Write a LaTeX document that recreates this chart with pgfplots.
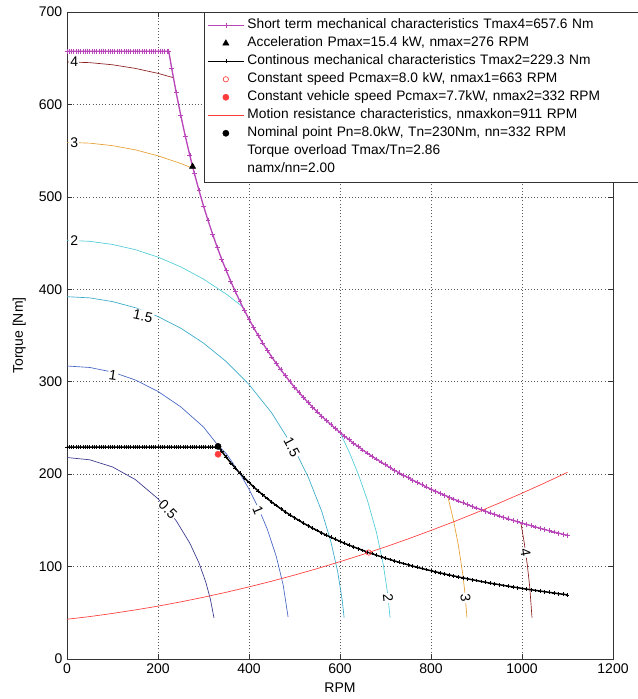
\documentclass[border=0pt]{standalone}
\usepackage{fontspec}
\setmainfont{Liberation Sans}
\usepackage{pgfplots}
\pgfplotsset{compat=1.18}
\definecolor{magc}{RGB}{185,70,185}
\definecolor{redc}{RGB}{255,60,60}
\definecolor{cA}{RGB}{55,55,140}
\definecolor{cB}{RGB}{70,100,195}
\definecolor{cC}{RGB}{55,170,200}
\definecolor{cD}{RGB}{80,205,215}
\definecolor{cE}{RGB}{230,160,50}
\definecolor{cF}{RGB}{140,30,30}
\tikzset{clabel/.style={font=\fontsize{10.5}{12}\selectfont, fill=white, inner sep=0.8pt}}
\begin{document}
\begin{tikzpicture}
\begin{axis}[
  scale only axis, width=409.5pt, height=485.25pt,
  xmin=0, xmax=1200, ymin=0, ymax=700,
  xtick={0,200,...,1200}, ytick={0,100,...,700},
  grid=major, grid style={black!65, dash pattern=on 0.8pt off 1.6pt, line width=0.45pt},
  tick align=inside, tick pos=both, major tick length=4pt,
  axis line style={black!80, line width=0.5pt},
  every tick/.style={black!80},
  /pgf/number format/assume math mode=true,
  /pgf/number format/1000 sep={},
  tick label style={font=\fontsize{10.5}{12}\selectfont},
  label style={font=\fontsize{10.5}{12}\selectfont},
  xlabel={RPM}, ylabel={Torque [Nm]},
  ylabel style={yshift=3pt},
  legend cell align=left,
  legend style={at={(rel axis cs:0.2509,1)}, anchor=north west, draw=black!80, font=\fontsize{10.3}{12}\selectfont, row sep=0pt, inner xsep=2pt, inner ysep=3pt, nodes={text height=7.5pt, text depth=2pt, inner ysep=2pt},
    /tikz/every even column/.append style={text width=320pt, align=left}},
  legend image code/.code={\draw[mark repeat=2,mark phase=2] plot coordinates {(0cm,0cm) (0.48cm,0cm) (0.96cm,0cm)};},
]
% contour lines
\addplot[cA, line width=0.5pt, forget plot] coordinates {(0,218)(50,215.5)(100,207.8)(150,194.2)(200,173.4)(240,149.6)(270,125.3)(290,104.0)(305,83.2)(315,65.0)(323,44.6)};
\addplot[cB, line width=0.5pt, forget plot] coordinates {(0,317)(50,315.4)(100,310.4)(150,301.9)(200,289.5)(250,272.8)(300,251.0)(332,231)(350,222.3)(380,200.7)(400,183.8)(420,164.2)(440,140.7)(460,110.9)(475,80.3)(486,45.2)};
\addplot[cC, line width=0.5pt, forget plot] coordinates {(0,392)(50,390.7)(100,386.7)(150,380.1)(200,370.5)(250,357.9)(300,341.8)(350,321.8)(400,297.0)(450,266.2)(500,226.8)(530,197.0)(560,159.5)(580,126.8)(595,94.3)(605,63.2)(609,44.7)};
\addplot[cD, line width=0.5pt, forget plot] coordinates {(0,453)(50,451.9)(100,448.5)(150,442.9)(200,434.8)(250,424.3)(300,411.0)(350,394.8)(380,383.4)(387,380.3)};
\addplot[cD, line width=0.5pt, forget plot] coordinates {(600,245.2)(620,224.2)(640,200.2)(660,172.1)(680,137.2)(695,102.5)(705,69.8)(710,44.8)};
\addplot[cE, line width=0.5pt, forget plot] coordinates {(0,559)(50,558.1)(100,555.4)(150,550.9)(200,544.4)(250,536.1)(276,531)};
\addplot[cE, line width=0.5pt, forget plot] coordinates {(837,175.8)(850,148.6)(860,123.5)(870,91.2)(875,69.3)(879,44.7)};
\addplot[cF, line width=0.5pt, forget plot] coordinates {(0,646)(50,645.2)(100,642.9)(150,639.0)(200,633.6)(234,628.9)};
\addplot[cF, line width=0.5pt, forget plot] coordinates {(997.5,147.4)(1005,125.5)(1012,100.5)(1017,77.8)(1022,44.8)};
% contour labels
\node[clabel, rotate=-45] at (axis cs:222,162) {0.5};
\node[clabel, rotate=-8] at (axis cs:101,307) {1};
\node[clabel, rotate=-68] at (axis cs:420,161) {1};
\node[clabel, rotate=-12] at (axis cs:167,371) {1.5};
\node[clabel, rotate=-62] at (axis cs:494,229) {1.5};
\node[clabel] at (axis cs:16,453) {2};
\node[clabel, rotate=-84] at (axis cs:706,66) {2};
\node[clabel] at (axis cs:16,559) {3};
\node[clabel, rotate=-84] at (axis cs:876,66) {3};
\node[clabel] at (axis cs:16,646) {4};
\node[clabel, rotate=-80] at (axis cs:1008,115) {4};
% short term characteristic
\addplot[magc, line width=1pt, mark=+, mark size=1.8pt, mark options={line width=0.5pt}] coordinates {
(0,657.6)(5,657.6)(10,657.6)(15,657.6)(20,657.6)(25,657.6)(30,657.6)(35,657.6)(40,657.6)(45,657.6)(50,657.6)(55,657.6)(60,657.6)(65,657.6)(70,657.6)(75,657.6)(80,657.6)(85,657.6)(90,657.6)(95,657.6)(100,657.6)(105,657.6)(110,657.6)(115,657.6)(120,657.6)(125,657.6)(130,657.6)(135,657.6)(140,657.6)(145,657.6)(150,657.6)(155,657.6)(160,657.6)(165,657.6)(170,657.6)(175,657.6)(180,657.6)(185,657.6)(190,657.6)(195,657.6)(200,657.6)(205,657.6)(210,657.6)(215,657.6)(220,657.6)(223.6,657.6)
(230,639.4)(240,612.7)(250,588.2)(260,565.6)(270,544.7)(280,525.2)(290,507.1)(300,490.2)(310,474.4)(320,459.6)(330,445.6)(340,432.5)(350,420.2)(360,408.5)(370,397.5)(380,387.0)(390,377.1)(400,367.6)
(410,358.7)(420,350.1)(430,342.0)(440,334.2)(450,326.8)(460,319.7)(470,312.9)(480,306.4)(490,300.1)(500,294.1)(510,288.4)(520,282.8)(530,277.5)(540,272.3)(550,267.4)(560,262.6)(570,258.0)(580,253.6)(590,249.3)(600,245.1)
(610,241.1)(620,237.2)(630,233.4)(640,229.8)(650,226.2)(660,222.8)(670,219.5)(680,216.3)(690,213.1)(700,210.1)(710,207.1)(720,204.2)(730,201.4)(740,198.7)(750,196.1)(760,193.5)(770,191.0)(780,188.5)(790,186.2)(800,183.8)
(810,181.6)(820,179.3)(830,177.2)(840,175.1)(850,173.0)(860,171.0)(870,169.0)(880,167.1)(890,165.2)(900,163.4)(910,161.6)(920,159.8)(930,158.1)(940,156.4)(950,154.8)(960,153.2)(970,151.6)(980,150.1)(990,148.5)(1000,147.1)
(1010,145.6)(1020,144.2)(1030,142.8)(1040,141.4)(1050,140.1)(1060,138.7)(1070,137.4)(1080,136.2)(1090,134.9)(1100,133.7)};
\addlegendentry{Short term mechanical characteristics Tmax4=657.6 Nm}
\addplot[only marks, black, mark=triangle*, mark size=2.6pt] coordinates {(276,532.8)};
\addlegendentry{Acceleration Pmax=15.4 kW, nmax=276 RPM}
\addplot[black, line width=1.1pt, mark=+, mark size=1.4pt, mark options={line width=0.5pt}] coordinates {
(0,229.3)(5,229.3)(10,229.3)(15,229.3)(20,229.3)(25,229.3)(30,229.3)(35,229.3)(40,229.3)(45,229.3)(50,229.3)(55,229.3)(60,229.3)(65,229.3)(70,229.3)(75,229.3)(80,229.3)(85,229.3)(90,229.3)(95,229.3)(100,229.3)(105,229.3)(110,229.3)(115,229.3)(120,229.3)(125,229.3)(130,229.3)(135,229.3)(140,229.3)(145,229.3)(150,229.3)(155,229.3)(160,229.3)(165,229.3)(170,229.3)(175,229.3)(180,229.3)(185,229.3)(190,229.3)(195,229.3)(200,229.3)(205,229.3)(210,229.3)(215,229.3)(220,229.3)(225,229.3)(230,229.3)(235,229.3)(240,229.3)(245,229.3)(250,229.3)(255,229.3)(260,229.3)(265,229.3)(270,229.3)(275,229.3)(280,229.3)(285,229.3)(290,229.3)(295,229.3)(300,229.3)(305,229.3)(310,229.3)(315,229.3)(320,229.3)(325,229.3)(330,229.3)(333.2,229.3)
(340,224.7)(350,218.3)(360,212.2)(370,206.5)(380,201.0)(390,195.9)(400,191.0)(410,186.3)(420,181.9)(430,177.7)(440,173.6)(450,169.8)(460,166.1)(470,162.5)(480,159.2)(490,155.9)(500,152.8)
(510,149.8)(520,146.9)(530,144.1)(540,141.5)(550,138.9)(560,136.4)(570,134.0)(580,131.7)(590,129.5)(600,127.3)(610,125.2)(620,123.2)(630,121.3)(640,119.4)(650,117.5)(660,115.7)(670,114.0)(680,112.3)(690,110.7)(700,109.1)
(710,107.6)(720,106.1)(730,104.6)(740,103.2)(750,101.9)(760,100.5)(770,99.2)(780,97.9)(790,96.7)(800,95.5)(810,94.3)(820,93.2)(830,92.0)(840,90.9)(850,89.9)(860,88.8)(870,87.8)(880,86.8)(890,85.8)(900,84.9)
(910,83.9)(920,83.0)(930,82.1)(940,81.3)(950,80.4)(960,79.6)(970,78.8)(980,78.0)(990,77.2)(1000,76.4)(1010,75.6)(1020,74.9)(1030,74.2)(1040,73.5)(1050,72.8)(1060,72.1)(1070,71.4)(1080,70.7)(1090,70.1)(1100,69.4)};
\addlegendentry{Continous mechanical characteristics Tmax2=229.3 Nm}
\addplot[only marks, redc, mark=o, mark size=2pt, mark options={line width=0.5pt}] coordinates {(663,115.2)};
\addlegendentry{Constant speed Pcmax=8.0 kW, nmax1=663 RPM}
\addplot[only marks, redc, mark=*, mark size=2.3pt] coordinates {(332,221.5)};
\addlegendentry{Constant vehicle speed Pcmax=7.7kW, nmax2=332 RPM}
\addplot[redc, line width=0.5pt] coordinates {(0,43.0)(50,45.9)(100,49.3)(150,53.1)(200,57.2)(250,61.8)(300,66.8)(350,72.2)(400,78.0)(450,84.2)(500,90.8)(550,97.8)(600,105.3)(650,113.1)(700,121.3)(750,130.0)(800,139.1)(850,148.5)(900,158.4)(950,168.7)(1000,179.4)(1050,190.5)(1100,202.0)};
\addlegendentry{Motion resistance characteristics, nmaxkon=911 RPM}
\addplot[only marks, black, mark=*, mark size=2.3pt] coordinates {(332,230)};
\addlegendentry{Nominal point Pn=8.0kW, Tn=230Nm, nn=332 RPM}
\addlegendimage{empty legend}
\addlegendentry{Torque overload Tmax/Tn=2.86}
\addlegendimage{empty legend}
\addlegendentry{namx/nn=2.00}
\end{axis}
\pgfresetboundingbox
\path[use as bounding box] (-50.25pt,-30pt) rectangle (428.25pt,494.25pt);
\end{tikzpicture}
\end{document}
